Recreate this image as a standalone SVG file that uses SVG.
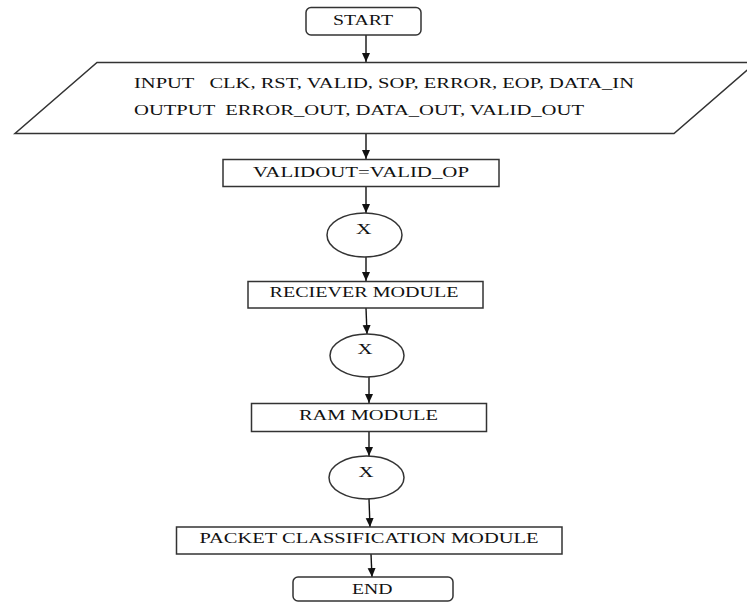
<svg xmlns="http://www.w3.org/2000/svg" width="747" height="604" viewBox="0 0 747 604">
<defs>
<style>
.shape{fill:#fff;stroke:#333;stroke-width:1.5}
.t{font-family:"Liberation Serif","Times New Roman",serif;font-size:15.5px;fill:#111}
.c{stroke:#111;stroke-width:1.4;fill:none;marker-end:url(#ah)}
</style>
<marker id="ah" markerUnits="userSpaceOnUse" markerWidth="10" markerHeight="10" viewBox="0 0 10 10" refX="9" refY="5" orient="auto">
<path d="M0,1 L9,5 L0,9 Z" fill="#111"/>
</marker>
</defs>
<rect width="747" height="604" fill="#fff"/>
<g id="connectors">
<line class="c" x1="366" y1="35" x2="366" y2="62"/>
<line class="c" x1="366" y1="133" x2="366" y2="159"/>
<line class="c" x1="366" y1="187" x2="366" y2="213"/>
<line class="c" x1="366" y1="257" x2="366" y2="281"/>
<line class="c" x1="366" y1="308" x2="367" y2="334"/>
<line class="c" x1="369" y1="377" x2="369" y2="403"/>
<line class="c" x1="369" y1="432" x2="369" y2="456"/>
<line class="c" x1="369" y1="499" x2="370" y2="527"/>
<line class="c" x1="371" y1="554" x2="372" y2="577"/>
</g>
<g id="start">
<rect class="shape" x="306" y="7.5" width="115" height="27.5" rx="5"/>
<text class="t" x="333" y="25" textLength="60" lengthAdjust="spacingAndGlyphs">START</text>
</g>
<g id="io">
<polygon class="shape" points="97,62.5 756,62.5 674,133.5 15,133.5"/>
<text class="t" x="134" y="87.5" textLength="500" lengthAdjust="spacingAndGlyphs" xml:space="preserve">INPUT   CLK, RST, VALID, SOP, ERROR, EOP, DATA_IN</text>
<text class="t" x="134" y="115" textLength="450" lengthAdjust="spacingAndGlyphs" xml:space="preserve">OUTPUT  ERROR_OUT, DATA_OUT, VALID_OUT</text>
</g>
<g id="validout">
<rect class="shape" x="223" y="159.5" width="276" height="27"/>
<text class="t" x="253" y="177" textLength="216" lengthAdjust="spacingAndGlyphs">VALIDOUT=VALID_OP</text>
</g>
<g id="x1">
<ellipse class="shape" cx="364.5" cy="235" rx="37.5" ry="22"/>
<text class="t" x="356" y="234" textLength="15.5" lengthAdjust="spacingAndGlyphs">X</text>
</g>
<g id="receiver">
<rect class="shape" x="248" y="281.5" width="235" height="26.5"/>
<text class="t" x="269.5" y="297" textLength="189" lengthAdjust="spacingAndGlyphs">RECIEVER MODULE</text>
</g>
<g id="x2">
<ellipse class="shape" cx="367" cy="355.5" rx="37" ry="21.5"/>
<text class="t" x="357.5" y="354" textLength="15" lengthAdjust="spacingAndGlyphs">X</text>
</g>
<g id="ram">
<rect class="shape" x="251.5" y="403.5" width="235" height="28"/>
<text class="t" x="299" y="420" textLength="139" lengthAdjust="spacingAndGlyphs">RAM MODULE</text>
</g>
<g id="x3">
<ellipse class="shape" cx="366.5" cy="477.5" rx="37.5" ry="21.5"/>
<text class="t" x="358.5" y="477" textLength="15" lengthAdjust="spacingAndGlyphs">X</text>
</g>
<g id="packet">
<rect class="shape" x="176.5" y="527" width="385.5" height="27"/>
<text class="t" x="199.5" y="542.5" textLength="339" lengthAdjust="spacingAndGlyphs">PACKET CLASSIFICATION MODULE</text>
</g>
<g id="end">
<rect class="shape" x="293" y="577" width="160" height="24" rx="5"/>
<text class="t" x="352" y="594" textLength="40.5" lengthAdjust="spacingAndGlyphs">END</text>
</g>
</svg>
